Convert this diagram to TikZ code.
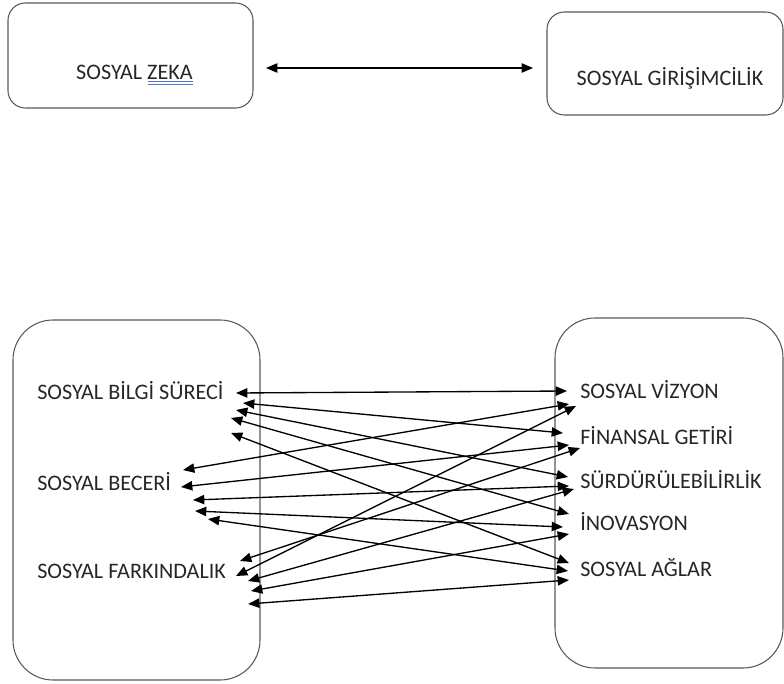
\documentclass[tikz,border=0pt]{standalone}
\usepackage{fontspec}
\setmainfont{Carlito}
\usetikzlibrary{arrows.meta}
\definecolor{spell}{RGB}{80,120,210}
\begin{document}
\begin{tikzpicture}[x=0.75pt,y=-0.75pt,
  box/.style={draw=black!65, line width=0.8pt},
  lab/.style={font=\fontsize{16.6}{19}\selectfont, text=black!85, inner sep=0pt},
  link/.style={line width=1pt, {Triangle[length=8.5pt,width=7pt]}-{Triangle[length=8.5pt,width=7pt]}}]
\useasboundingbox (0,0) rectangle (784,684);

% boxes
\draw[box, rounded corners=13pt] (8,3) rectangle (253,108);
\draw[box, rounded corners=13pt] (547,12) rectangle (783,115);
\draw[box, rounded corners=30pt] (13,320) rectangle (260,680);
\draw[box, rounded corners=30pt] (555,318) rectangle (783,668);

% top labels
\node[lab] (zeka) at (134.5,72) {SOSYAL ZEKA};
\node[lab] (gir) at (670,78) {SOSYAL GİRİŞİMCİLİK};
\draw[spell, line width=0.6pt] (148,81.5) -- (193,81.5);
\draw[spell, line width=0.6pt] (148,84) -- (193,84);

\coordinate (ta) at (266,68);
\coordinate (tb) at (533,68);
\draw[link] (ta) -- (tb);

% left labels
\node[lab, anchor=west] (sbs) at (37,391) {SOSYAL BİLGİ SÜRECİ};
\node[lab, anchor=west] (sb) at (37,482) {SOSYAL BECERİ};
\node[lab, anchor=west] (sf) at (37,571) {SOSYAL FARKINDALIK};

% right labels
\node[lab, anchor=west] (sv) at (580,390) {SOSYAL VİZYON};
\node[lab, anchor=west] (fg) at (580,436) {FİNANSAL GETİRİ};
\node[lab, anchor=west] (su) at (580,480) {SÜRDÜRÜLEBİLİRLİK};
\node[lab, anchor=west] (in) at (580,522) {İNOVASYON};
\node[lab, anchor=west] (sa) at (580,568) {SOSYAL AĞLAR};

% left endpoints
\coordinate (L11) at (236,393);
\coordinate (L12) at (243,403);
\coordinate (L13) at (236,410);
\coordinate (L14) at (231,418);
\coordinate (L15) at (231,433);
\coordinate (L21) at (183,470);
\coordinate (L22) at (181,487);
\coordinate (L23) at (193,500);
\coordinate (L24) at (195,511);
\coordinate (L25) at (208,519);
\coordinate (L31) at (236,576);
\coordinate (L32) at (240,561);
\coordinate (L33) at (248,581);
\coordinate (L34) at (251,591);
\coordinate (L35) at (248,604);

% right endpoints
\coordinate (R11) at (567,391);
\coordinate (R21) at (569,404);
\coordinate (R31) at (576,406);
\coordinate (R12) at (563,433);
\coordinate (R22) at (569,445);
\coordinate (R32) at (580,448);
\coordinate (R13) at (568,477);
\coordinate (R23) at (569,486);
\coordinate (R33) at (574,489);
\coordinate (R14) at (569,514);
\coordinate (R24) at (563,527);
\coordinate (R34) at (569,534);
\coordinate (R15) at (569,563);
\coordinate (R25) at (568,571);
\coordinate (R35) at (569,580);

\foreach \i in {1,2,3}{
  \foreach \j in {1,...,5}{
    \draw[link] (L\i\j) -- (R\i\j);
  }
}
\end{tikzpicture}
\end{document}
